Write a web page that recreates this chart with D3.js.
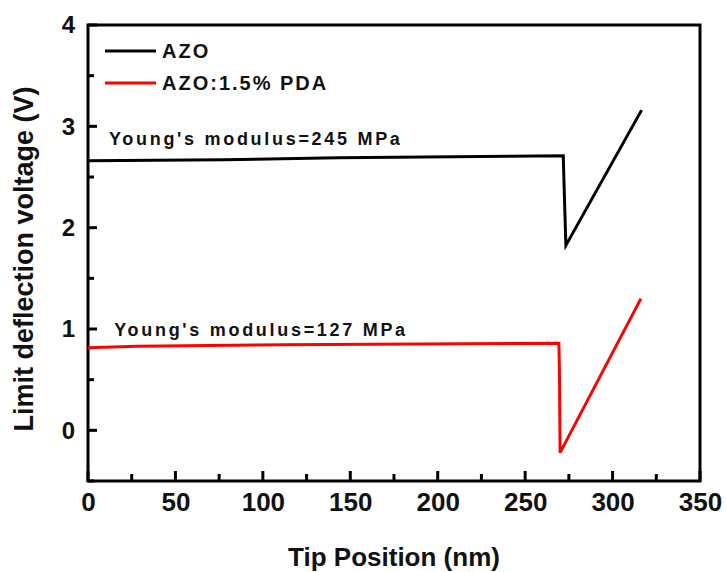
<!DOCTYPE html>
<html>
<head>
<meta charset="utf-8">
<script src="https://cdn.jsdelivr.net/npm/d3@7"></script>
<style>
  body { margin: 0; background: #fff; }
  svg { display: block; font-family: "Liberation Sans", Arial, sans-serif; }
</style>
</head>
<body>
<div id="chart"></div>
<script>
// values
const azoX = [0, 78, 143, 271.8, 272.3, 273.3, 316.6];
const azoY = [2.66, 2.67, 2.69, 2.71, 2.40, 1.825, 3.16];
const pdaX = [0, 28, 111, 269.3, 269.6, 270.0, 316.2];
const pdaY = [0.815, 0.83, 0.845, 0.86, 0.60, -0.22, 1.30];

const seriesNames = ["AZO", "AZO:1.5% PDA"];
const seriesColors = ["#000000", "#ff0000"];
const notes = ["Young's modulus=245 MPa", "Young's modulus=127 MPa"];
const noteX = [12, 15];
const noteY = [2.82, 0.93];

const xTicks = [0, 50, 100, 150, 200, 250, 300, 350];
const yTicks = [0, 1, 2, 3, 4];
const xMinor = [25, 75, 125, 175, 225, 275, 325];
const yMinor = [-0.5, 0.5, 1.5, 2.5, 3.5];

const width = 726;
const height = 572;
const margin = { top: 25, right: 26, bottom: 91, left: 88 };

const svg = d3
  .select("#chart")
  .append("svg")
  .attr("width", width)
  .attr("height", height);

const x = d3
  .scaleLinear()
  .domain([0, 350])
  .range([margin.left, width - margin.right]);

const y = d3
  .scaleLinear()
  .domain([-0.5, 4])
  .range([height - margin.bottom, margin.top]);

const xAxis = d3
  .axisBottom(x)
  .tickValues(xTicks)
  .tickFormat(d3.format("d"))
  .tickSize(0)
  .tickPadding(10);

const gx = svg
  .append("g")
  .attr("transform", `translate(0, ${height - margin.bottom})`)
  .call(xAxis);

const yAxis = d3
  .axisLeft(y)
  .tickValues(yTicks)
  .tickFormat(d3.format("d"))
  .tickSize(0)
  .tickPadding(13);

const gy = svg
  .append("g")
  .attr("transform", `translate(${margin.left}, 0)`)
  .call(yAxis);

[gx, gy].forEach((g) => {
  g.select(".domain").remove();
  g.selectAll("text")
    .attr("fill", "#111")
    .style("font-weight", "bold");
});
gx.selectAll("text").style("font-size", "26px").attr("dy", "0.75em");
gy.selectAll("text").style("font-size", "24px");

// frame
svg
  .append("rect")
  .attr("x", x(0))
  .attr("y", y(4))
  .attr("width", x(350) - x(0))
  .attr("height", y(-0.5) - y(4))
  .attr("fill", "none")
  .attr("stroke", "#000")
  .attr("stroke-width", 3);

// inward ticks, drawn by hand on top of the frame
const tickG = svg
  .append("g")
  .attr("stroke", "#000")
  .attr("stroke-width", 3);

const xTickData = xTicks.map((v) => [v, 10]).concat(xMinor.map((v) => [v, 7]));
const yTickData = yTicks.map((v) => [v, 9]).concat(yMinor.map((v) => [v, 6]));

tickG
  .selectAll("line.xt")
  .data(xTickData)
  .enter()
  .append("line")
  .attr("class", "xt")
  .attr("x1", (d) => x(d[0]))
  .attr("x2", (d) => x(d[0]))
  .attr("y1", y(-0.5))
  .attr("y2", (d) => y(-0.5) - d[1]);

tickG
  .selectAll("line.yt")
  .data(yTickData)
  .enter()
  .append("line")
  .attr("class", "yt")
  .attr("x1", x(0))
  .attr("x2", (d) => x(0) + d[1])
  .attr("y1", (d) => y(d[0]))
  .attr("y2", (d) => y(d[0]));

// curves
const line = d3
  .line()
  .x((d) => x(d[0]))
  .y((d) => y(d[1]));

const series = [d3.zip(azoX, azoY), d3.zip(pdaX, pdaY)];

svg
  .append("g")
  .selectAll("path")
  .data(series)
  .enter()
  .append("path")
  .attr("d", line)
  .attr("fill", "none")
  .attr("stroke", (d, i) => seriesColors[i])
  .attr("stroke-width", 3)
  .attr("stroke-linejoin", "miter");

// annotations
svg
  .append("g")
  .selectAll("text")
  .data(notes)
  .enter()
  .append("text")
  .attr("x", (d, i) => x(noteX[i]))
  .attr("y", (d, i) => y(noteY[i]))
  .attr("font-size", "18px")
  .attr("font-weight", "bold")
  .attr("letter-spacing", "2.7px")
  .attr("fill", "#111")
  .text((d) => d);

// legend
const legend = svg
  .append("g")
  .attr("transform", `translate(${margin.left + 17}, 51)`);

legend
  .selectAll("g")
  .data(seriesNames)
  .enter()
  .append("g")
  .attr("transform", (d, i) => `translate(0, ${i * 32})`)
  .each(function (d, i) {
    const g = d3.select(this);
    g.append("line")
      .attr("x1", 0)
      .attr("x2", 51)
      .attr("stroke", seriesColors[i])
      .attr("stroke-width", 3);
    g.append("text")
      .attr("x", 57)
      .attr("dy", "0.36em")
      .attr("font-size", "20px")
      .attr("font-weight", "bold")
      .attr("letter-spacing", "2px")
      .attr("fill", "#111")
      .text(d);
  });

// axis titles
svg
  .append("text")
  .attr("x", (x(0) + x(350)) / 2)
  .attr("y", 566)
  .attr("text-anchor", "middle")
  .attr("font-size", "26px")
  .attr("font-weight", "bold")
  .attr("fill", "#111")
  .text("Tip Position (nm)");

svg
  .append("text")
  .attr("transform", `translate(33, 259) rotate(-90)`)
  .attr("text-anchor", "middle")
  .attr("font-size", "27px")
  .attr("font-weight", "bold")
  .attr("fill", "#111")
  .text("Limit deflection voltage (V)");
</script>
</body>
</html>
